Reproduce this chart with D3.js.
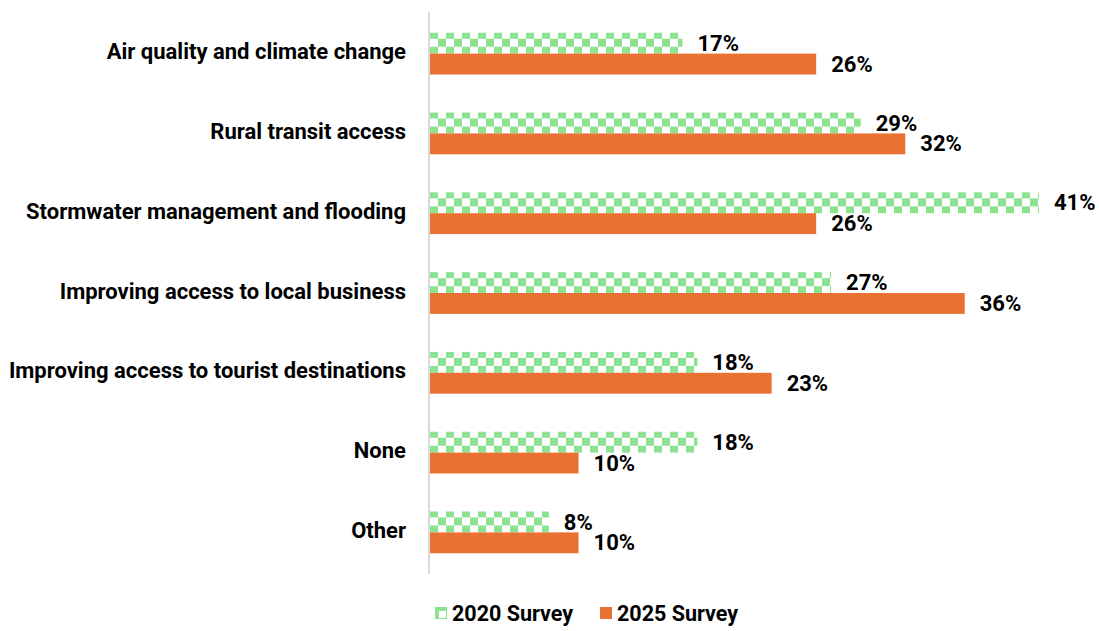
<!DOCTYPE html>
<html><head><meta charset="utf-8">
<script src="https://cdn.jsdelivr.net/npm/d3@7"></script>
<style>body{margin:0;background:#fff;} text{font-family:Roboto, "Liberation Sans", sans-serif;font-weight:700;fill:#000;}</style>
</head><body>
<svg id="c" width="1099" height="631"></svg>
<script>
const categories = ["Air quality and climate change","Rural transit access","Stormwater management and flooding","Improving access to local business","Improving access to tourist destinations","None","Other"];
const series2020 = [17,29,41,27,18,18,8];
const series2025 = [26,32,26,36,23,10,10];
const seriesNames = ["2020 Survey","2025 Survey"];

const svg = d3.select("#c");
const x0 = 430, yTop = 12, yBot = 574;
const x = d3.scaleLinear().domain([0,41]).range([x0,1039]);
const y = d3.scaleBand().domain(categories).range([yTop,yBot]).paddingInner(0.477).paddingOuter(0.26);
const sub = d3.scaleBand().domain(seriesNames).range([0,y.bandwidth()]);

const defs = svg.append("defs");
const pat = defs.append("pattern").attr("id","chk").attr("patternUnits","userSpaceOnUse").attr("width",16).attr("height",16).attr("x",430).attr("y",30);
pat.append("rect").attr("width",16).attr("height",16).attr("fill","#fff");
pat.append("rect").attr("width",8).attr("height",8).attr("fill","#8BE38F");
pat.append("rect").attr("x",8).attr("y",8).attr("width",8).attr("height",8).attr("fill","#8BE38F");

const fills = {"2020 Survey":"url(#chk)","2025 Survey":"#E97132"};
const data = categories.map((c,i)=>({c, vals:[{s:seriesNames[0],v:series2020[i]},{s:seriesNames[1],v:series2025[i]}]}));

const g = svg.selectAll("g.cat").data(data).join("g").attr("transform",d=>`translate(0,${y(d.c)})`);
g.selectAll("rect").data(d=>d.vals).join("rect")
  .attr("x",x(0)).attr("y",d=>sub(d.s)).attr("width",d=>x(d.v)-x(0)).attr("height",sub.bandwidth())
  .attr("fill",d=>fills[d.s]);
g.selectAll("text.val").data(d=>d.vals).join("text").attr("class","val")
  .attr("x",d=>x(d.v)+15).attr("y",d=>sub(d.s)+sub.bandwidth()/2+1).attr("dy","0.3em")
  .attr("font-size",22).text(d=>d.v+"%");

// axis line
svg.append("line").attr("x1",429).attr("x2",429).attr("y1",yTop).attr("y2",yBot).attr("stroke","#d9d9d9").attr("stroke-width",2);

// category labels
svg.selectAll("text.cat").data(categories).join("text").attr("class","cat")
  .attr("x",406).attr("y",d=>y(d)+y.bandwidth()/2-1).attr("dy","0.3em").attr("text-anchor","end")
  .attr("font-size",22).text(d=>d);

// legend
const leg = [{n:"2020 Survey",x:435,t:"p"},{n:"2025 Survey",x:600,t:"s"}];
const lg = svg.selectAll("g.leg").data(leg).join("g").attr("class","leg");
lg.append("rect").attr("x",d=>d.x).attr("y",607).attr("width",12).attr("height",12).attr("fill",d=>d.t==="s"?"#E97132":"#8BE38F");
lg.filter(d=>d.t==="p").append("rect").attr("x",d=>d.x+4).attr("y",611).attr("width",7).attr("height",7).attr("fill","#fff");
lg.append("text").attr("x",d=>d.x+17).attr("y",614).attr("dy","0.33em").attr("font-size",21.5).text(d=>d.n);
</script>
</body></html>
